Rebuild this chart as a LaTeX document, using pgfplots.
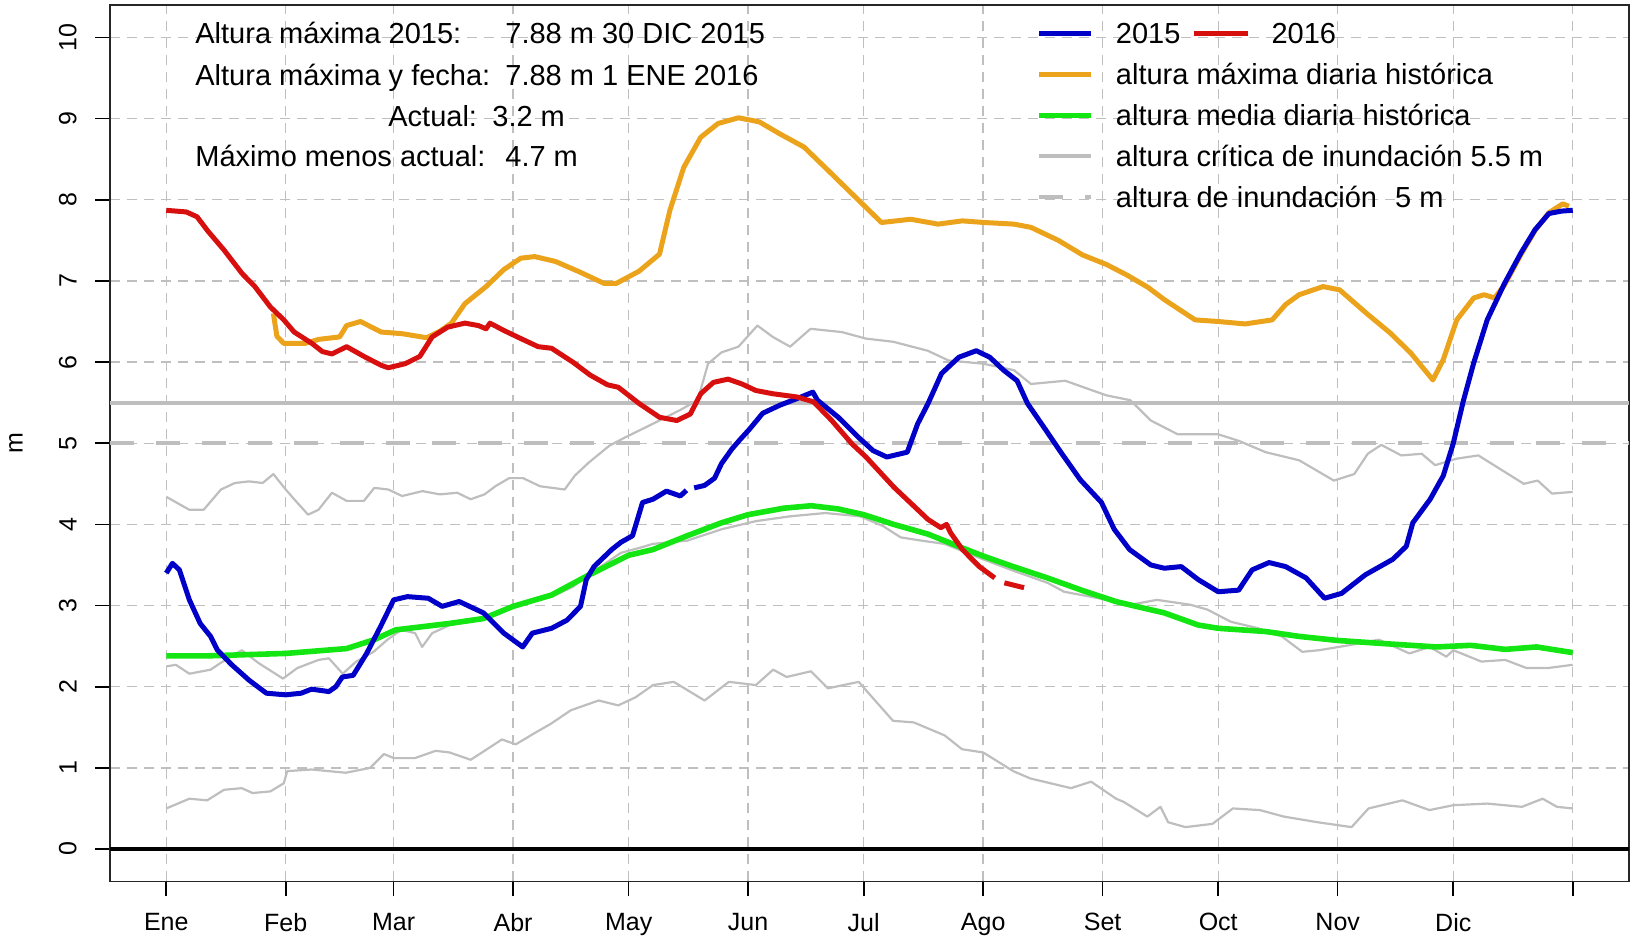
\documentclass[border=0pt]{standalone}
\usepackage{fontspec}
\setmainfont{Liberation Sans}
\usepackage{pgfplots}
\pgfplotsset{compat=1.18}
\usepackage{pgfplotstable}

\definecolor{azul}{RGB}{0,0,200}
\definecolor{rojo}{RGB}{215,15,15}
\definecolor{naranja}{RGB}{236,163,28}
\definecolor{verde}{RGB}{20,230,20}
\definecolor{gris}{RGB}{190,190,190}

% dia del anio, altura (m)
\pgfplotstableread{
dia altura
1 3.40
2.6 3.52
4.4 3.44
7 3.07
9.8 2.78
12.5 2.62
14.3 2.45
18 2.27
22.5 2.08
27 1.92
32 1.90
36 1.92
38.7 1.97
43.2 1.94
45 2.00
46.7 2.12
49.5 2.14
53 2.41
56.6 2.74
60 3.07
63.6 3.11
69 3.09
72.6 2.99
77 3.05
83.3 2.91
88.6 2.66
93.5 2.49
96 2.66
101 2.72
105 2.82
108.5 2.99
110 3.32
112 3.48
116.6 3.69
119 3.78
122 3.86
124.6 4.27
127.3 4.31
130.8 4.41
134.4 4.35
136 4.42
137 nan
138 4.45
140.7 4.48
143.3 4.57
145.1 4.75
147.8 4.93
150 5.05
152.3 5.17
155.8 5.37
160.3 5.47
164.7 5.55
168.8 5.63
170 5.53
175.4 5.32
180.7 5.07
184.4 4.91
188 4.83
193.3 4.89
196 5.24
198.7 5.49
202.2 5.86
206.7 6.06
211.2 6.14
214.7 6.06
218.3 5.90
221.8 5.77
224.5 5.49
229 5.18
233 4.90
238.2 4.55
243.7 4.27
247 3.94
251 3.69
256.5 3.50
260 3.46
264.4 3.48
268.8 3.32
274 3.17
279.3 3.19
282.8 3.44
287.2 3.53
291.5 3.48
296.8 3.34
301.6 3.09
306 3.15
312.2 3.38
319.3 3.57
322.8 3.73
324.5 4.02
329 4.31
332.4 4.60
335 5.00
337.6 5.52
340.3 5.99
343.8 6.52
348.3 6.97
352.5 7.34
356.2 7.63
359.8 7.83
363 7.86
366 7.87
}\dosmilquince

\pgfplotstableread{
dia altura
1 7.87
6.2 7.85
9 7.79
11.7 7.62
16 7.38
20.7 7.09
24 6.93
28 6.68
31.5 6.52
34.2 6.37
38.8 6.23
41.5 6.13
44 6.10
47.8 6.19
52.3 6.07
56.8 5.96
58.6 5.93
63 5.98
66.8 6.07
70 6.31
74 6.43
78.5 6.48
82 6.45
84 6.41
85 6.48
88.6 6.39
93 6.29
97.5 6.19
101 6.17
106.5 6.00
111 5.84
115.5 5.72
118.3 5.69
123.7 5.49
129 5.32
133.5 5.28
137 5.36
139.7 5.61
143 5.75
146.8 5.79
150.4 5.73
154 5.65
158.4 5.61
164.7 5.57
169 5.51
173.7 5.28
179 4.99
182.6 4.83
189.8 4.46
198.7 4.06
202 3.96
203.5 4.00
204.5 3.90
207.6 3.69
212 3.48
216 3.34
217 nan
218.5 3.28
223.6 3.22
}\dosmildieciseis

\pgfplotstableread{
dia altura
28.8 6.60
29.7 6.32
31.5 6.23
37 6.23
40.6 6.28
46 6.31
47.8 6.45
51.4 6.50
56.8 6.37
62.2 6.35
68.6 6.30
72 6.38
75 6.48
78.5 6.72
84 6.93
88.6 7.14
93 7.28
96.6 7.30
102 7.24
108.3 7.11
114.6 6.97
117.8 6.97
123.7 7.12
129 7.33
131.7 7.87
135.3 8.40
139.7 8.77
144.2 8.94
149.5 9.01
154.9 8.96
160.3 8.81
166.5 8.65
172.8 8.36
179.9 8.03
186.6 7.72
194.2 7.76
201.3 7.70
207.6 7.74
213.2 7.72
221 7.70
225.4 7.66
232.5 7.50
238.8 7.32
245.1 7.20
250.4 7.07
255.8 6.92
260 6.77
268 6.52
274 6.50
281 6.47
288 6.52
291.5 6.71
295 6.83
301.2 6.93
305.5 6.89
312.5 6.60
318.6 6.36
324 6.11
329.7 5.78
332.4 6.03
335.9 6.52
340.3 6.79
343 6.83
345.7 6.79
348.3 6.95
352.5 7.32
356.2 7.62
359.8 7.84
363.4 7.95
365 7.92
}\maxima

\pgfplotstableread{
dia altura
1 2.38
11.6 2.38
32 2.41
47.8 2.47
55 2.58
60.5 2.70
74.6 2.78
83.3 2.84
91 2.99
101 3.13
110 3.36
121 3.62
127.3 3.69
136.2 3.86
145.1 4.02
152 4.12
161.3 4.20
168.4 4.23
175.4 4.19
182 4.12
189.8 4.00
198.7 3.88
207.6 3.71
213 3.61
220.8 3.48
229.7 3.34
238.5 3.19
247.4 3.05
254.5 2.97
260 2.91
268.8 2.76
274 2.72
286.3 2.68
295 2.62
305 2.57
317.4 2.53
330.6 2.49
339.5 2.51
348.5 2.46
356.6 2.49
366 2.42
}\media

\pgfplotstableread{
dia altura
1 4.34
7 4.18
10.7 4.18
15.2 4.43
18.8 4.51
22.5 4.53
26 4.51
28.8 4.62
32 4.43
34.2 4.31
37.8 4.12
40.5 4.18
44 4.39
47.8 4.29
52.3 4.29
55 4.45
58.6 4.43
62.2 4.35
67.5 4.41
72 4.37
76.5 4.39
80 4.31
83.6 4.37
86.4 4.47
90 4.57
93.6 4.57
98 4.47
104.4 4.43
107 4.60
110.6 4.76
116 4.97
120 5.07
127.3 5.24
134.4 5.41
138.9 5.53
141.6 5.98
145.1 6.12
149.5 6.19
154.4 6.45
158.4 6.31
162.9 6.19
168.2 6.41
176.3 6.37
182.5 6.29
189.7 6.25
198.6 6.14
204 6.02
213 5.98
221 5.90
225.4 5.73
234.3 5.77
241.4 5.65
245 5.59
251.2 5.53
256.5 5.28
263.5 5.11
274 5.11
279.3 5.03
286.3 4.89
295 4.79
304 4.54
309.3 4.62
312.8 4.87
316.3 4.98
321.5 4.85
326.8 4.87
330.3 4.73
335.9 4.81
341.5 4.85
346.9 4.69
353.3 4.50
356.9 4.54
360.6 4.38
366 4.40
}\grisalto

\pgfplotstableread{
dia altura
1 2.25
3.5 2.27
7 2.16
12.5 2.21
15 2.29
20.6 2.45
25 2.29
31.3 2.10
35 2.23
40.5 2.33
43.2 2.35
46.8 2.16
50.3 2.31
54.8 2.43
58.4 2.58
62 2.70
65.6 2.66
67.4 2.49
70 2.66
74.6 2.76
83.5 2.84
91.5 2.99
101 3.11
106.5 3.23
110 3.36
119 3.65
124.5 3.72
127.3 3.76
136.2 3.80
145.1 3.94
154 4.04
163 4.10
172 4.14
181 4.10
187 3.98
191.6 3.84
197 3.80
203 3.76
213 3.57
220.8 3.43
229.7 3.28
234 3.17
243 3.09
251.2 3.01
258.1 3.07
266.8 3.01
271.2 2.95
277.3 2.80
284.4 2.72
290.5 2.62
295.8 2.43
300.2 2.45
307.8 2.51
315.7 2.58
323.6 2.41
328.9 2.49
333.2 2.37
335 2.45
342.3 2.31
348.5 2.33
354 2.23
359.5 2.23
366 2.27
}\grismedio

\pgfplotstableread{
dia altura
1 0.50
7 0.62
11.6 0.60
16 0.73
20.6 0.75
23.4 0.69
28 0.71
31.5 0.81
32.4 0.96
38.7 0.98
47.6 0.94
53.9 1.00
57.5 1.17
60.1 1.12
65.5 1.12
70.9 1.21
74.5 1.19
80 1.10
83.6 1.21
88.1 1.35
91.7 1.29
97 1.44
100.7 1.54
106 1.71
113.2 1.83
118.3 1.77
122.8 1.87
127.3 2.02
132.7 2.06
140.7 1.83
147 2.06
154 2.02
158.5 2.21
162 2.12
168.3 2.19
172.7 1.98
180.7 2.06
184.2 1.87
189.6 1.58
195 1.56
203 1.40
207.5 1.23
213 1.19
220.8 0.96
225.2 0.87
235.8 0.75
241 0.83
247.5 0.62
249.5 0.58
255.6 0.40
259 0.52
261 0.33
265.5 0.27
272.5 0.31
277.8 0.50
284.8 0.48
291 0.40
299.8 0.33
308.6 0.27
313 0.50
321.8 0.60
328.8 0.48
335 0.54
343.8 0.56
352.8 0.52
358.2 0.62
361.9 0.52
366 0.50
}\grisbajo

\begin{document}
\begin{tikzpicture}
\begin{axis}[
  scale only axis,
  width=759.5pt, height=438.25pt,
  xmin=-13.6, xmax=380.6,
  ymin=-0.4, ymax=10.4,
  axis line style={black!85, line width=0.9pt},
  xtick={1,32,60,91,121,152,182,213,244,274,305,335,366},
  xticklabels={Ene,Feb,Mar,Abr,May,Jun,Jul,Ago,Set,Oct,Nov,Dic,{}},
  ytick={0,1,...,10},
  tick align=outside, tick pos=left,
  major tick length=7.5pt,
  tick style={black, line width=0.8pt},
  grid=major,
  major grid style={black!25, line width=0.7pt, dash pattern=on 5pt off 3.5pt},
  ticklabel style={font=\fontsize{12.5}{14}\selectfont},
  yticklabel style={rotate=90, anchor=south, inner sep=0pt},
  xticklabel style={anchor=north, inner sep=0pt},
  yticklabel shift=9pt,
  xticklabel shift=8.3pt,
  /pgf/number format/assume math mode=true,
  ylabel={m},
  ylabel style={at={(axis description cs:-0.062,0.5)}, anchor=center, font=\fontsize{12.5}{14}\selectfont},
  unbounded coords=jump,
  legend cell align=left,
  legend image code/.code={\draw[#1] (0pt,0pt) -- (26pt,0pt);},
  legend style={
    at={(axis description cs:0.6096,0.98)}, anchor=north west,
    draw=none, fill=none, inner sep=0pt,
    font=\fontsize{14.5}{17}\selectfont,
    row sep=10pt,
    nodes={inner sep=0pt, text height=10.5pt, text depth=0pt},
    /tikz/every odd column/.style={column sep=11pt},
  },
]
\addlegendimage{azul, line width=2.5pt}
\addlegendentry{2015\hspace{6.5pt}\textcolor{rojo}{\rule[4pt]{27pt}{2.5pt}}\hspace{12pt}2016}
\addlegendimage{naranja, line width=2.5pt}
\addlegendentry{altura máxima diaria histórica}
\addlegendimage{verde, line width=2.8pt}
\addlegendentry{altura media diaria histórica}
\addlegendimage{gris, line width=2pt}
\addlegendentry{altura crítica de inundación 5.5 m}
\addlegendimage{gris, line width=2pt, dash pattern=on 12pt off 11pt}
\addlegendentry{altura de inundación\hspace{5pt} 5 m}

\addplot[gris, line width=1.1pt, line join=round, forget plot] table {\grisalto};
\addplot[gris, line width=1.1pt, line join=round, forget plot] table {\grismedio};
\addplot[gris, line width=1.1pt, line join=round, forget plot] table {\grisbajo};
\addplot[gris, line width=2pt, dash pattern=on 12pt off 11pt, forget plot] coordinates {(-13.6,5) (380.6,5)};
\addplot[gris, line width=2pt, forget plot] coordinates {(-13.6,5.5) (380.6,5.5)};
\addplot[black, line width=1.8pt, forget plot] coordinates {(-13.6,0) (380.6,0)};
\addplot[verde, line width=2.8pt, line join=round, forget plot] table {\media};
\addplot[naranja, line width=2.5pt, line join=round, forget plot] table {\maxima};
\addplot[azul, line width=2.5pt, line join=round, forget plot] table {\dosmilquince};
\addplot[rojo, line width=2.5pt, line join=round, forget plot] table {\dosmildieciseis};
\end{axis}

\begin{scope}[every node/.style={anchor=base west, inner sep=0pt, font=\fontsize{14.5}{17}\selectfont}]
\node at ([shift={(42.5pt,-19.25pt)}]current axis.north west) {Altura máxima 2015:};
\node at ([shift={(197.5pt,-19.25pt)}]current axis.north west) {7.88 m 30 DIC 2015};
\node at ([shift={(42.5pt,-40.25pt)}]current axis.north west) {Altura máxima y fecha:};
\node at ([shift={(197.5pt,-40.25pt)}]current axis.north west) {7.88 m 1 ENE 2016};
\node at ([shift={(139pt,-60.75pt)}]current axis.north west) {Actual:};
\node at ([shift={(191pt,-60.75pt)}]current axis.north west) {3.2 m};
\node at ([shift={(42.5pt,-80.75pt)}]current axis.north west) {Máximo menos actual:};
\node at ([shift={(197.5pt,-80.75pt)}]current axis.north west) {4.7 m};
\end{scope}

\pgfresetboundingbox
\path[use as bounding box] ([shift={(-55pt,-27.25pt)}]current axis.south west) rectangle ([shift={(2pt,2.5pt)}]current axis.north east);
\end{tikzpicture}
\end{document}
